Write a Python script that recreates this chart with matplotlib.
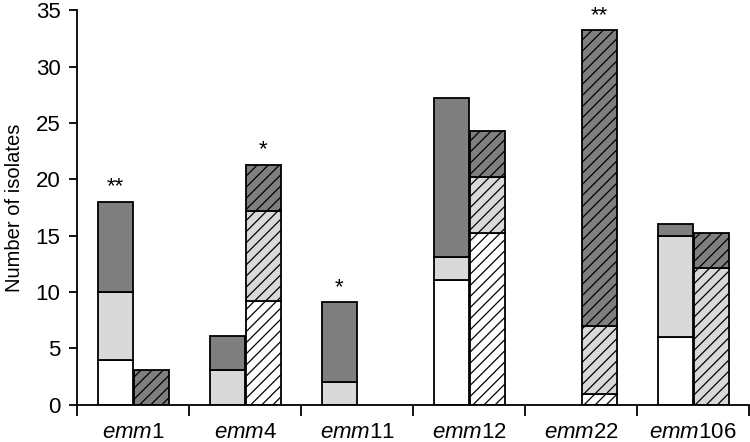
import numpy as np
import matplotlib.pyplot as plt

plt.rcParams['font.family'] = ['Liberation Sans', 'DejaVu Sans']
plt.rcParams['mathtext.fontset'] = 'custom'
plt.rcParams['mathtext.it'] = 'Liberation Sans:italic'
plt.rcParams['mathtext.rm'] = 'Liberation Sans'
plt.rcParams['hatch.linewidth'] = 0.9

# data
groups = ['1', '4', '11', '12', '22', '106']
# solid bars (first bar of each group)
solid_white = [4, 0, 0, 11.1, 0, 6.0]
solid_light = [6, 3.1, 2.0, 2.0, 0, 9.0]
solid_dark = [8, 3.0, 7.1, 14.1, 0, 1.0]
# hatched bars (second bar of each group)
hatch_white = [0, 9.2, 0, 15.2, 1.0, 0]
hatch_light = [0, 8.0, 0, 5.0, 6.0, 12.1]
hatch_dark = [3.1, 4.1, 0, 4.1, 26.2, 3.1]
# significance marks: (group, bar 0=solid 1=hatched, text)
marks = [(0, 0, '**'), (1, 1, '*'), (2, 0, '*'), (4, 1, '**')]

white = '#ffffff'
light = '#d9d9d9'
dark = '#7f7f7f'

fig = plt.figure(figsize=(7.5, 4.42), dpi=100)
ax = fig.add_axes([0.103, 0.084, 0.896, 0.893])

x = np.arange(len(groups))
w = 0.31
off = 0.16

def stack(xpos, parts, hatch):
    bottom = np.zeros(len(xpos))
    for vals, col in parts:
        vals = np.array(vals, dtype=float)
        m = vals > 0
        ax.bar(xpos[m], vals[m], w, bottom=bottom[m], color=col,
               edgecolor='black', linewidth=1.3, hatch=hatch, zorder=2)
        bottom = bottom + vals
    return bottom

top_s = stack(x - off, [(solid_white, white), (solid_light, light), (solid_dark, dark)], None)
top_h = stack(x + off, [(hatch_white, white), (hatch_light, light), (hatch_dark, dark)], '///')

for g, b, t in marks:
    if b == 0:
        xp, yp = x[g] - off, top_s[g]
    else:
        xp, yp = x[g] + off, top_h[g]
    ax.text(xp, yp + 0.4, t, ha='center', va='bottom', fontsize=16)

ax.set_xlim(-0.5, len(groups) - 0.5)
ax.set_ylim(0, 35)
ax.set_yticks(np.arange(0, 36, 5))
ax.set_ylabel('Number of isolates', fontsize=14.5)
ax.yaxis.set_label_coords(-0.079, 0.5)
ax.tick_params(axis='y', labelsize=16, direction='out', length=6, width=1.3, pad=6)

ax.set_xticks(np.arange(len(groups) + 1) - 0.5)
ax.set_xticklabels([])
ax.set_xticks(x, minor=True)
ax.set_xticklabels([r'$\mathit{emm}$' + g for g in groups], minor=True, fontsize=16)
ax.tick_params(axis='x', which='major', direction='out', length=8, width=1.3)
ax.tick_params(axis='x', which='minor', length=0, pad=12)

for s in ['top', 'right']:
    ax.spines[s].set_visible(False)
for s in ['left', 'bottom']:
    ax.spines[s].set_linewidth(1.3)

plt.savefig('out.png', dpi=100)
